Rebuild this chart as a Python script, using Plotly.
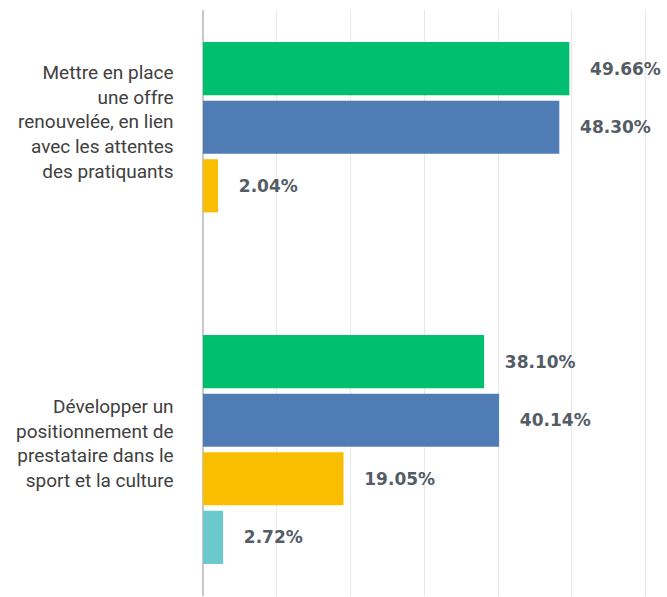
import plotly.graph_objects as go

categories = ["Mettre en place<br>une offre<br>renouvelée, en lien<br>avec les attentes<br>des pratiquants",
              "Développer un<br>positionnement de<br>prestataire dans le<br>sport et la culture"]
cat_keys = ["A", "B"]
series_names = ["Série 1", "Série 2", "Série 3", "Série 4"]
series_values = [
    [49.66, 38.10],
    [48.30, 40.14],
    [2.04, 19.05],
    [None, 2.72],
]
colors = ["#00BF6F", "#507CB6", "#F9BE00", "#6BC8CD"]
x_ticks = [0, 10, 20, 30, 40, 50, 60]

fig = go.Figure()
pad = "\u00a0" * 3
for name, vals, col in zip(series_names, series_values, colors):
    txt = [f"{pad}{v:.2f}%" if v is not None else "" for v in vals]
    fig.add_trace(go.Bar(
        y=cat_keys, x=[v if v is not None else 0 for v in vals], name=name, orientation="h",
        marker=dict(color=col, line=dict(width=0)),
        text=txt, textposition="outside", cliponaxis=False,
        textfont=dict(family="DejaVu Sans", size=17, color="#545C66", weight="bold"),
        hoverinfo="skip",
    ))

for key, lab, shift in zip(cat_keys, categories, [35, 6]):
    fig.add_annotation(x=0, xref="paper", y=key, yref="y", text=lab, showarrow=False,
                       xanchor="right", yanchor="middle", align="right", xshift=-27, yshift=shift,
                       font=dict(family="Roboto", size=19, color="#404040"))

fig.update_layout(
    width=667, height=597,
    margin=dict(l=203, r=0, t=10, b=1),
    paper_bgcolor="white", plot_bgcolor="white",
    barmode="group", bargap=0.2, bargroupgap=0.094,
    showlegend=False,
    xaxis=dict(range=[0, 62.9], tickvals=x_ticks, showticklabels=False,
               showgrid=True, gridcolor="#E8E8E8", gridwidth=1,
               zeroline=True, zerolinecolor="#C8C8C8", zerolinewidth=1.5),
    yaxis=dict(range=[1.5, -0.5], showticklabels=False, showgrid=False, zeroline=False),
    uniformtext=dict(mode=False),
)

fig.write_html("out.html", config={"displayModeBar": False},
               post_script="document.body.style.margin='0';")
